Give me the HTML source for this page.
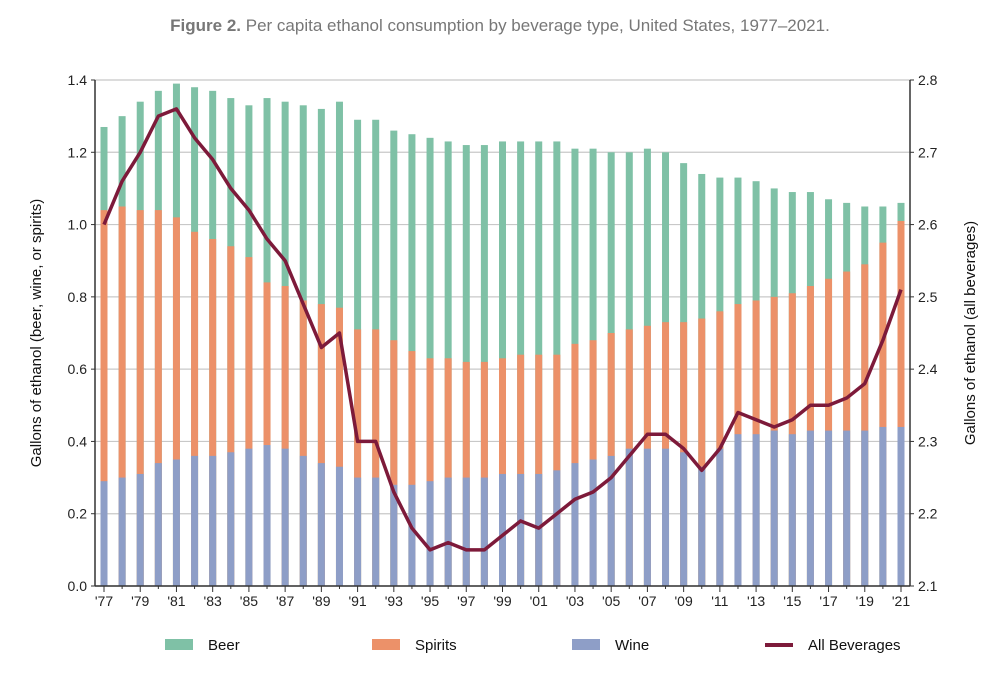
<!DOCTYPE html>
<html><head><meta charset="utf-8"><style>
body{margin:0;background:#fff;font-family:"Liberation Sans",sans-serif;}
</style></head><body>
<svg id="c" width="1000" height="668" xmlns="http://www.w3.org/2000/svg">
<text x="500" y="31" text-anchor="middle" font-size="17" fill="#777"><tspan font-weight="bold">Figure 2.</tspan> Per capita ethanol consumption by beverage type, United States, 1977–2021.</text>
</svg>
<script>
const years=[];for(let y=1977;y<=2021;y++)years.push(y);
const beer=[1.27,1.30,1.34,1.37,1.39,1.38,1.37,1.35,1.33,1.35,1.34,1.33,1.32,1.34,1.29,1.29,1.26,1.25,1.24,1.23,1.22,1.22,1.23,1.23,1.23,1.23,1.21,1.21,1.20,1.20,1.21,1.20,1.17,1.14,1.13,1.13,1.12,1.10,1.09,1.09,1.07,1.06,1.05,1.05,1.06];
const spirits=[1.04,1.05,1.04,1.04,1.02,0.98,0.96,0.94,0.91,0.84,0.83,0.79,0.78,0.77,0.71,0.71,0.68,0.65,0.63,0.63,0.62,0.62,0.63,0.64,0.64,0.64,0.67,0.68,0.70,0.71,0.72,0.73,0.73,0.74,0.76,0.78,0.79,0.80,0.81,0.83,0.85,0.87,0.89,0.95,1.01];
const wine=[0.29,0.30,0.31,0.34,0.35,0.36,0.36,0.37,0.38,0.39,0.38,0.36,0.34,0.33,0.30,0.30,0.28,0.28,0.29,0.30,0.30,0.30,0.31,0.31,0.31,0.32,0.34,0.35,0.36,0.38,0.38,0.38,0.37,0.33,0.38,0.42,0.42,0.43,0.42,0.43,0.43,0.43,0.43,0.44,0.44];
const allBev=[2.60,2.66,2.70,2.75,2.76,2.72,2.69,2.65,2.62,2.58,2.55,2.49,2.43,2.45,2.30,2.30,2.23,2.18,2.15,2.16,2.15,2.15,2.17,2.19,2.18,2.20,2.22,2.23,2.25,2.28,2.31,2.31,2.29,2.26,2.29,2.34,2.33,2.32,2.33,2.35,2.35,2.36,2.38,2.44,2.51];
const leftTicks=[0,0.2,0.4,0.6,0.8,1.0,1.2,1.4];
const rightTicks=[2.1,2.2,2.3,2.4,2.5,2.6,2.7,2.8];
const svg=document.getElementById('c');const NS='http://www.w3.org/2000/svg';
const L=95,R=910,T=80,B=586;
const x=i=>104+i*(901-104)/(years.length-1);
const yl=v=>B-(v-0)/1.4*(B-T);
const yr=v=>B-(v-2.1)/0.7*(B-T);
function mk(tag,at,txt){const e=document.createElementNS(NS,tag);for(const k in at)e.setAttribute(k,at[k]);if(txt!==undefined)e.textContent=txt;svg.appendChild(e);return e;}
leftTicks.forEach((v,i)=>{
 const g=mk('line',{x1:L,x2:R,y1:yl(v),y2:yl(v),stroke:'#c8c8c8','stroke-width':1.2});
 
 
 const t=mk('text',{x:L-8,y:yl(v)+5,'text-anchor':'end','font-size':14,fill:'#222'},v.toFixed(1));
 
 
 mk('line',{x1:L-4,x2:L,y1:yl(v),y2:yl(v),stroke:'#333'});
});
rightTicks.forEach(v=>{
 const t=mk('text',{x:R+8,y:yr(v)+5,'font-size':14,fill:'#222'},v.toFixed(1));
 
 
 mk('line',{x1:R,x2:R+4,y1:yr(v),y2:yr(v),stroke:'#333'});
});
const bw=7;
[[beer,'#7fc1a6','bar-beer'],[spirits,'#ec9169','bar-spirits'],[wine,'#8e9ec7','bar-wine']].forEach(([arr,col,nm])=>{
 arr.forEach((v,i)=>{
  const r=mk('rect',{x:x(i)-bw/2,y:yl(v),width:bw,height:B-yl(v),fill:col});
  
  
 });
});
const p=mk('polyline',{points:allBev.map((v,i)=>x(i)+','+yr(v)).join(' '),fill:'none',stroke:'#7d1a3a','stroke-width':3.5,'stroke-linejoin':'round'});


mk('line',{x1:L,x2:L,y1:T,y2:B,stroke:'#333','stroke-width':1.5});
mk('line',{x1:R,x2:R,y1:T,y2:B,stroke:'#333','stroke-width':1.5});
mk('line',{x1:L,x2:R,y1:B,y2:B,stroke:'#333','stroke-width':1.5});
years.forEach((yv,i)=>{
 mk('line',{x1:x(i),x2:x(i),y1:B,y2:B+(i%2?3:6),stroke:'#333'});
 if(i%2===0){const t=mk('text',{x:x(i),y:B+20,'text-anchor':'middle','font-size':14,fill:'#222'},"'"+String(yv).slice(2));
 
 }
});
const ya=mk('text',{transform:'translate(41,333) rotate(-90)','text-anchor':'middle','font-size':15,fill:'#111'},'Gallons of ethanol (beer, wine, or spirits)');


const yb=mk('text',{transform:'translate(975,333) rotate(-90)','text-anchor':'middle','font-size':15,fill:'#111'},'Gallons of ethanol (all beverages)');


[['Beer','#7fc1a6',165,'rect'],['Spirits','#ec9169',372,'rect'],['Wine','#8e9ec7',572,'rect'],['All Beverages','#7d1a3a',765,'line']].forEach(([lab,col,lx,kind])=>{
 const s=kind==='rect'?mk('rect',{x:lx,y:639,width:28,height:11,fill:col}):mk('line',{x1:lx,x2:lx+28,y1:645,y2:645,stroke:col,'stroke-width':4});
 
 
 const t=mk('text',{x:lx+43,y:650,'font-size':15,fill:'#111'},lab);
 
 
});
</script>
</body></html>
